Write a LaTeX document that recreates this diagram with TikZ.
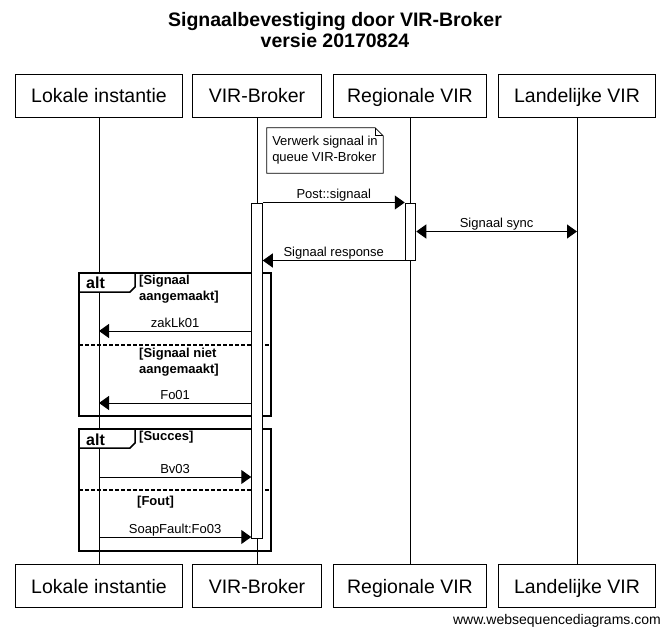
\documentclass[tikz,border=0pt]{standalone}
\usepackage{fontspec}
\setmainfont{Liberation Sans}
\usetikzlibrary{arrows.meta}
\tikzset{
  party/.style = {draw, line width=1pt, minimum height=43pt, inner sep=0pt, text height=14pt, text depth=0pt, font=\fontsize{19.5}{23}\selectfont},
  lifeline/.style = {line width=1pt},
  activation/.style = {draw, fill=white, line width=1pt, minimum width=10.5pt, inner sep=0pt},
  msg/.style = {line width=1pt, -{Triangle[length=10pt,width=14pt]}},
  msgboth/.style = {line width=1pt, {Triangle[length=10pt,width=14pt]}-{Triangle[length=10pt,width=14pt]}},
  msglabel/.style = {anchor=south, inner sep=0pt, yshift=3.5pt, text depth=0pt, font=\fontsize{13}{16}\selectfont},
  altframe/.style = {line width=1.5pt},
  alttab/.style = {altframe, fill=white},
  altsep/.style = {line width=1.5pt, dash pattern=on 4pt off 2pt},
  guard/.style = {anchor=north west, inner sep=0pt, align=left, font=\bfseries\fontsize{13}{16}\selectfont},
  altlabel/.style = {anchor=base west, inner sep=0pt, font=\bfseries\fontsize{16}{19}\selectfont},
  notebox/.style = {minimum width=116pt, minimum height=45pt, inner sep=0pt, align=left, font=\fontsize{13}{16}\selectfont}
}

\begin{document}
\begin{tikzpicture}[x=1pt, y=-1pt]
  \useasboundingbox (0,0) rectangle (670,633);

  % title
  \node[anchor=north, inner sep=0pt, align=center, font=\bfseries\fontsize{19.5}{21}\selectfont] (title) at (335,12.5)
    {Signaalbevestiging door VIR-Broker\\versie 20170824};

  % participants, top and bottom
  \node[party, minimum width=167pt] (li) at (99,95.5) {Lokale instantie};
  \node[party, minimum width=129pt] (vb) at (257,95.5) {VIR-Broker};
  \node[party, minimum width=153pt] (rv) at (410,95.5) {Regionale VIR};
  \node[party, minimum width=157pt] (lv) at (577,95.5) {Landelijke VIR};
  \node[party, minimum width=167pt] (li2) at (99,586) {Lokale instantie};
  \node[party, minimum width=129pt] (vb2) at (257,586) {VIR-Broker};
  \node[party, minimum width=153pt] (rv2) at (410,586) {Regionale VIR};
  \node[party, minimum width=157pt] (lv2) at (577,586) {Landelijke VIR};

  % alt frames
  \draw[altframe] (79,273) rectangle (271,416);
  \node[guard] (g1) at (139,274.5) {[Signaal\\aangemaakt]};
  \draw[altsep] (79,345) -- (271,345);
  \node[guard] (g2) at (139,347.5) {[Signaal niet\\aangemaakt]};

  \draw[altframe] (79,429) rectangle (271,551);
  \node[guard] (g3) at (139,431) {[Succes]};
  \draw[altsep] (79,490) -- (271,490);
  \node[guard] (g4) at (137,496) {[Fout]};

  % lifelines
  \foreach \p in {li,vb,rv,lv}
    \draw[lifeline] (\p.south) -- (\p2.north);

  % alt tabs over the lifelines
  \draw[alttab] (79,273) -- (79,292) -- (130,292) -- (135,287) -- (135,273) -- cycle;
  \node[altlabel] (alt1) at (86,288) {alt};
  \draw[alttab] (79,429) -- (79,448) -- (130,448) -- (135,443) -- (135,429) -- cycle;
  \node[altlabel] (alt2) at (86,445) {alt};

  % activations
  \node[activation, minimum height=335pt] (vbact) at (257,370.5) {};
  \node[activation, minimum height=57pt] (rvact) at (410.5,231.5) {};

  % note
  \node[notebox] (note) at (325,150.5) {Verwerk signaal in\\queue VIR-Broker};
  \draw[line width=0.8pt] (note.north west) -- ([xshift=-8pt]note.north east) -- ([yshift=-8pt]note.north east)
    -- (note.south east) -- (note.south west) -- cycle;
  \draw[line width=0.8pt] ([xshift=-8pt]note.north east) |- ([yshift=-8pt]note.north east);

  % points on lifelines
  \coordinate (lv-sync) at (577,231.5);
  \coordinate (li-zak) at (99,331);
  \coordinate (li-fo) at (99,403);
  \coordinate (li-bv) at (99,477);
  \coordinate (li-soap) at (99,537);

  % messages
  \draw[msg] (vbact.north east) -- node[msglabel] {Post::signaal} (rvact.north west);
  \draw[msgboth] (rvact.east |- lv-sync) -- node[msglabel] {Signaal sync} (lv-sync);
  \draw[msg] (rvact.south west) -- node[msglabel] {Signaal response} (vbact.east |- rvact.south);
  \draw[msg] (vbact.west |- li-zak) -- node[msglabel] {zakLk01} (li-zak);
  \draw[msg] (vbact.west |- li-fo) -- node[msglabel] {Fo01} (li-fo);
  \draw[msg] (li-bv) -- node[msglabel] {Bv03} (vbact.west |- li-bv);
  \draw[msg] (li-soap) -- node[msglabel] {SoapFault:Fo03} (vbact.west |- li-soap);

  % footer
  \node[anchor=base east, inner sep=0pt, font=\fontsize{14}{16}\selectfont] (footer) at (661,624) {www.websequencediagrams.com};
\end{tikzpicture}
\end{document}
